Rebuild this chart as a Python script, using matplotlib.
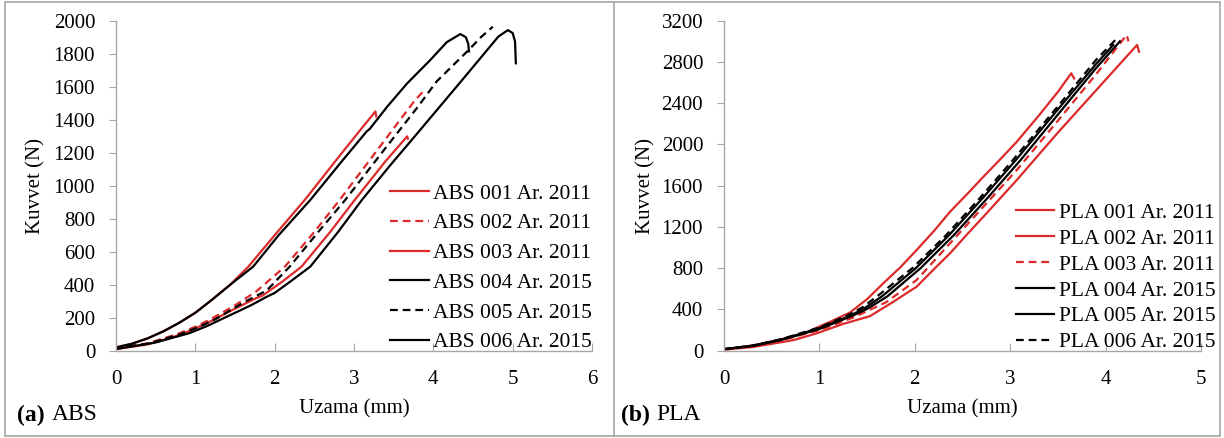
import numpy as np
import matplotlib
matplotlib.use("Agg")
import matplotlib.pyplot as plt
from matplotlib.patches import Rectangle
from matplotlib.lines import Line2D

plt.rcParams['font.family'] = ['Liberation Serif', 'DejaVu Serif']

RED = '#dc2a2a'
GRAY = '#a6a6a6'

# ABS curves (Uzama mm, Kuvvet N)
abs001_x = [0, 0.2, 0.4, 0.6, 0.8, 1.0, 1.2, 1.44, 1.67, 2.0, 2.38, 2.8, 3.1, 3.27, 3.28]
abs001_y = [20, 42, 75, 118, 170, 230, 305, 400, 510, 700, 914, 1170, 1350, 1450, 1420]
abs002_x = [0, 0.4, 0.77, 1.0, 1.19, 1.5, 1.77, 2.13, 2.5, 2.82, 3.3, 3.77, 3.90]
abs002_y = [15, 45, 100, 145, 190, 275, 360, 510, 720, 914, 1220, 1519, 1585]
abs003_x = [0, 0.4, 0.8, 1.0, 1.2, 1.5, 1.77, 1.85, 2.1, 2.34, 2.7, 3.01, 3.4, 3.67, 3.68]
abs003_y = [10, 38, 95, 135, 180, 255, 319, 335, 420, 510, 720, 914, 1150, 1299, 1285]
abs004_x = [0, 0.2, 0.4, 0.6, 0.8, 1.0, 1.2, 1.44, 1.73, 2.05, 2.45, 2.85, 3.16, 3.2,
            3.42, 3.67, 3.96, 4.17, 4.34, 4.41, 4.44, 4.45]
abs004_y = [20, 42, 75, 118, 170, 230, 305, 400, 510, 700, 914, 1150, 1329, 1345,
            1480, 1620, 1761, 1870, 1919, 1900, 1860, 1814]
abs005_x = [0, 0.4, 0.8, 1.05, 1.25, 1.6, 1.9, 2.19, 2.55, 2.89, 3.4, 3.80, 4.04,
            4.44, 4.6, 4.75]
abs005_y = [15, 42, 98, 145, 190, 290, 365, 510, 720, 914, 1230, 1475, 1631,
            1820, 1900, 1964]
abs006_x = [0, 0.5, 0.93, 1.15, 1.37, 1.7, 1.90, 2.0, 2.2, 2.45, 2.8, 3.10, 3.45,
            3.75, 3.96, 4.38, 4.82, 4.94, 5.0, 5.03, 5.04]
abs006_y = [10, 50, 107, 150, 200, 275, 327, 350, 420, 510, 720, 914, 1120,
            1290, 1410, 1650, 1904, 1943, 1925, 1874, 1742]

# PLA curves
pla001_x = [0, 0.3, 0.6, 0.85, 1.0, 1.1, 1.32, 1.5, 1.67, 1.85, 2.02, 2.2, 2.37, 2.55,
            2.72, 2.9, 3.07, 3.3, 3.5, 3.64, 3.67]
pla001_y = [15, 50, 110, 170, 235, 275, 370, 500, 654, 810, 977, 1160, 1348, 1520,
            1688, 1860, 2027, 2280, 2510, 2690, 2640]
pla002_x = [0, 0.3, 0.73, 0.97, 1.25, 1.53, 1.75, 2.02, 2.2, 2.37, 2.55, 2.72,
            3.07, 3.5, 3.9, 4.2, 4.33, 4.35]
pla002_y = [10, 35, 103, 168, 260, 335, 460, 621, 790, 945, 1130, 1300,
            1656, 2115, 2525, 2832, 2965, 2900]
pla003_x = [0, 0.3, 0.6, 1.0, 1.35, 1.7, 2.02, 2.37, 2.72, 3.07, 3.5, 3.9, 4.22, 4.24]
pla003_y = [12, 45, 100, 200, 320, 470, 686, 1042, 1397, 1753, 2230, 2680, 3062, 3000]
pla004_x = [0, 0.3, 0.6, 1.0, 1.3, 1.47, 1.66, 2.01, 2.36, 2.71, 3.06, 3.5, 3.9, 4.08]
pla004_y = [15, 48, 108, 218, 330, 410, 530, 800, 1122, 1478, 1850, 2340, 2780, 2965]
pla005_x = [0, 0.3, 0.6, 1.0, 1.35, 1.5, 1.71, 2.06, 2.41, 2.76, 3.11, 3.5, 3.9, 4.15]
pla005_y = [15, 46, 104, 210, 340, 405, 525, 800, 1122, 1478, 1850, 2290, 2740, 3000]
pla006_x = [0, 0.3, 0.6, 1.0, 1.3, 1.45, 1.63, 1.98, 2.33, 2.68, 3.03, 3.5, 3.9, 4.12]
pla006_y = [15, 50, 112, 225, 345, 420, 545, 805, 1122, 1478, 1850, 2370, 2820, 3030]

abs_labels = ['ABS 001 Ar. 2011', 'ABS 002 Ar. 2011', 'ABS 003 Ar. 2011',
              'ABS 004 Ar. 2015', 'ABS 005 Ar. 2015', 'ABS 006 Ar. 2015']
pla_labels = ['PLA 001 Ar. 2011', 'PLA 002 Ar. 2011', 'PLA 003 Ar. 2011',
              'PLA 004 Ar. 2015', 'PLA 005 Ar. 2015', 'PLA 006 Ar. 2015']

abs_series = [(abs001_x, abs001_y), (abs002_x, abs002_y), (abs003_x, abs003_y),
              (abs004_x, abs004_y), (abs005_x, abs005_y), (abs006_x, abs006_y)]
pla_series = [(pla001_x, pla001_y), (pla002_x, pla002_y), (pla003_x, pla003_y),
              (pla004_x, pla004_y), (pla005_x, pla005_y), (pla006_x, pla006_y)]

abs_styles = [(RED, '-'), (RED, '--'), (RED, '-'), ('black', '-'), ('black', '--'), ('black', '-')]
pla_styles = [(RED, '-'), (RED, '-'), (RED, '--'), ('black', '-'), ('black', '-'), ('black', '--')]

fig = plt.figure(figsize=(12.24, 4.38), dpi=100)
W, H = 1224, 438
ax1 = fig.add_axes([116 / W, 1 - 350.7 / H, 476 / W, 330 / H])
ax2 = fig.add_axes([724 / W, 1 - 350.7 / H, 477 / W, 330 / H])


def draw(ax, series, styles, labels, xmax, ymax, ystep, leg_anchor, lspace, ylab_x):
    for (x, y), (c, ls), lab in zip(series, styles, labels):
        line, = ax.plot(x, y, color=c, lw=1.6, ls=ls, label=lab)
        if ls == '--':
            line.set_dashes((3.5, 2.2))
    ax.set_xlim(0, xmax)
    ax.set_ylim(0, ymax)
    ax.set_xticks(np.arange(0, xmax + 1, 1))
    ax.set_yticks(np.arange(0, ymax + 1, ystep))
    for s in ['top', 'right']:
        ax.spines[s].set_visible(False)
    for s in ['left', 'bottom']:
        ax.spines[s].set_color(GRAY)
        ax.spines[s].set_linewidth(1.0)
    ax.tick_params(axis='y', direction='out', length=5, color=GRAY, labelsize=15, pad=10)
    ax.tick_params(axis='x', direction='in', length=6, color=GRAY, labelsize=15, pad=14)
    ax.set_xlabel('Uzama (mm)', fontsize=15)
    ax.set_ylabel('Kuvvet (N)', fontsize=15)
    ax.xaxis.set_label_coords(0.5, -0.148)
    ax.yaxis.set_label_coords(ylab_x, 0.5)
    leg = ax.legend(loc='lower right', bbox_to_anchor=leg_anchor, frameon=False,
                    fontsize=15.5, handlelength=1.8, handletextpad=0.2,
                    labelspacing=lspace, borderpad=0, borderaxespad=0)
    for h in leg.get_lines():
        if h.get_linestyle() == '--':
            h.set_dashes((3.5, 2.2))


draw(ax1, abs_series, abs_styles, abs_labels, 6, 2000, 200, (1.0, -0.005), 0.45, -0.149)
draw(ax2, pla_series, pla_styles, pla_labels, 5, 3200, 400, (1.03, -0.005), 0.27, -0.143)

# panel captions
fig.text(17 / W, 1 - 415 / H, '(a)', fontsize=17, weight='bold', va='center')
fig.text(52 / W, 1 - 415 / H, 'ABS', fontsize=17, va='center')
fig.text(621 / W, 1 - 415 / H, '(b)', fontsize=17, weight='bold', va='center')
fig.text(656 / W, 1 - 415 / H, 'PLA', fontsize=17, va='center')

# outer frame and divider
fig.add_artist(Rectangle((5 / W, 2 / H), (1220 - 5) / W, (436 - 2) / H,
                         transform=fig.transFigure, fill=False, ec=GRAY, lw=1.2))
fig.add_artist(Line2D([614 / W, 614 / W], [2 / H, 436 / H],
                      transform=fig.transFigure, color=GRAY, lw=1.2))

fig.savefig('out.png', dpi=100)
